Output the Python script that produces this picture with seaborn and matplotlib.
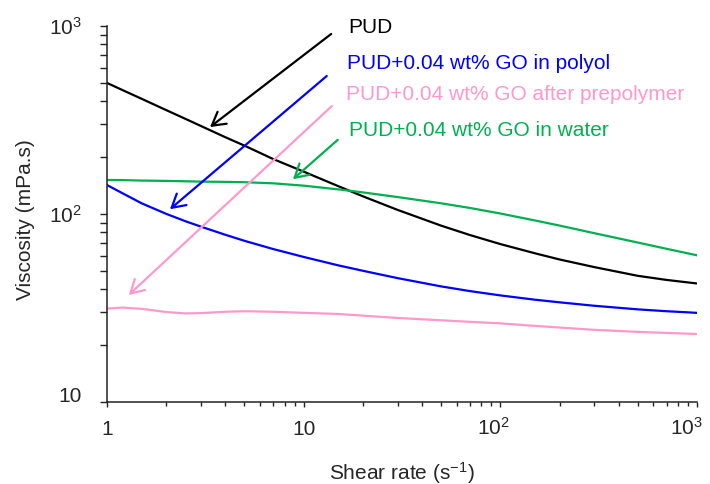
import numpy as np
import pandas as pd
import matplotlib
matplotlib.use("Agg")
import matplotlib.pyplot as plt
import matplotlib.transforms as mtransforms
import seaborn as sns

# Shear rate grid (s^-1) shared by all four flow curves
shear_rate = [1, 1.2, 1.5, 2, 2.5, 3, 4, 5, 7, 10, 15, 20, 30, 50, 70,
              100, 150, 200, 300, 500, 700, 1000]

# Viscosity (mPa.s) of each dispersion
pud = [498, 456, 410, 357, 321, 294, 256, 231, 196, 168, 140.6, 124.2, 105.2,
       86.7, 77.3, 69.2, 61.8, 57.3, 52.2, 46.9, 44.6, 42.7]
go_polyol = [142.6, 128.9, 114.0, 100.2, 91.6, 85.7, 77.5, 72.0, 65.1, 59.1,
             53.3, 49.9, 45.6, 41.2, 38.9, 36.9, 35.0, 33.9, 32.5, 31.1,
             30.4, 29.8]
go_prepolymer = [31.4, 31.8, 31.3, 30.1, 29.6, 29.7, 30.2, 30.4, 30.2, 29.8,
                 29.4, 28.8, 28.0, 27.2, 26.7, 26.2, 25.4, 24.9, 24.2, 23.6,
                 23.3, 23.0]
go_water = [151.7, 151.5, 150.6, 150.0, 149.3, 148.7, 148.2, 147.6, 145.6,
            141.5, 135.2, 130.3, 123.1, 114.0, 107.7, 100.6, 92.4, 86.8,
            79.1, 70.5, 65.3, 60.3]

series_names = ["PUD",
                "PUD+0.04 wt% GO in polyol",
                "PUD+0.04 wt% GO after prepolymer",
                "PUD+0.04 wt% GO in water"]
series_colors = ["#000000", "#0000ff", "#ff99cc", "#00b050"]

# Callout arrows: (tail, head) in data coordinates
arrow_tails = [(13.8, 907), (13.1, 542), (13.9, 375), (14.9, 248)]
arrow_heads = [(3.34, 290), (2.09, 106), (1.29, 37.1), (8.82, 153)]
# Label anchor positions (axes fraction)
label_pos = [(0.4085, 0.995), (0.4068, 0.900), (0.405, 0.817), (0.410, 0.722)]

x_ticks = [1, 10, 100, 1000]
x_ticklabels = ["1", "10", r"$10^{2}$", r"$10^{3}$"]
y_ticks = [10, 100, 1000]
y_ticklabels = ["10", r"$10^{2}$", r"$10^{3}$"]

sns.set_style("ticks")
plt.rcParams["font.family"] = ["Liberation Sans", "DejaVu Sans"]
plt.rcParams["mathtext.fontset"] = "custom"
plt.rcParams["mathtext.rm"] = "Liberation Sans"
plt.rcParams["mathtext.it"] = "Liberation Sans:italic"
plt.rcParams["mathtext.default"] = "regular"

df = pd.concat([
    pd.DataFrame({"rate": shear_rate, "visc": vals, "sample": name})
    for name, vals in zip(series_names, [pud, go_polyol, go_prepolymer, go_water])
], ignore_index=True)

fig = plt.figure(figsize=(7.10, 4.84), dpi=100)
ax = fig.add_axes([107 / 710, 82 / 484, 590 / 710, 376 / 484])

sns.lineplot(data=df, x="rate", y="visc", hue="sample", hue_order=series_names,
             palette=series_colors, linewidth=1.6, legend=False, ax=ax,
             sort=False)

ax.set_xscale("log")
ax.set_yscale("log")
ax.set_xlim(1, 1000)
ax.set_ylim(10, 1000)

for sp in ["top", "right"]:
    ax.spines[sp].set_visible(False)
for sp in ["left", "bottom"]:
    ax.spines[sp].set_linewidth(1.1)
    ax.spines[sp].set_color("#222222")

ax.set_xticks(x_ticks)
ax.set_xticklabels(x_ticklabels)
ax.set_yticks(y_ticks)
ax.set_yticklabels(y_ticklabels)
ax.tick_params(axis="both", which="both", direction="out", color="#222222",
               width=1.0, labelsize=15)
ax.tick_params(axis="x", which="major", length=3.6, pad=20)
ax.tick_params(axis="x", which="minor", length=3.2)
ax.tick_params(axis="y", which="major", length=5, pad=13)
ax.tick_params(axis="y", which="minor", length=5)
for lab in ax.get_xticklabels():
    lab.set_verticalalignment("baseline")
ax.get_yticklabels()[0].set_verticalalignment("baseline")

# nudge the powers-of-ten labels on the x axis slightly left
for lab, dx in zip(ax.get_xticklabels()[2:], [-7, -11]):
    lab.set_transform(lab.get_transform() +
                      mtransforms.ScaledTranslation(dx / 100, 0, fig.dpi_scale_trans))

ax.set_xlabel(r"Shear rate (s$^{-1}$)", fontsize=15, labelpad=15)
ax.set_ylabel("Viscosity (mPa.s)", fontsize=15, labelpad=10)
ax.yaxis.label.set_y(0.484)

for name, color, tail, head, pos in zip(series_names, series_colors,
                                        arrow_tails, arrow_heads, label_pos):
    ax.annotate("", xy=head, xytext=tail, xycoords="data", textcoords="data",
                arrowprops=dict(arrowstyle="->,head_length=0.94,head_width=0.54",
                                mutation_scale=10, color=color, lw=1.6,
                                shrinkA=0, shrinkB=0))
    ax.text(pos[0], pos[1], name, transform=ax.transAxes, color=color,
            fontsize=15, ha="left", va="center", clip_on=False)

fig.savefig("out.png", dpi=100)
